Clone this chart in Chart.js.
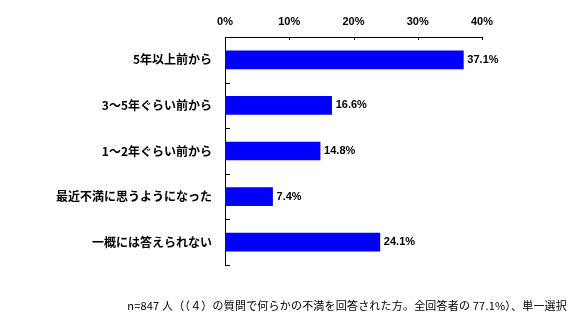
<!DOCTYPE html>
<html>
<head>
<meta charset="utf-8">
<script src="https://cdn.jsdelivr.net/npm/chart.js@4"></script>
<style>
    body { margin: 0; background: #fff; }
    .wrap { position: relative; width: 580px; height: 323px; }
    .note {
        position: absolute;
        right: 13px;
        top: 297px;
        font: 11px "Noto Sans CJK JP", sans-serif;
        letter-spacing: 0.2px;
        color: #000;
        white-space: nowrap;
    }
</style>
</head>
<body>
<div class="wrap">
    <canvas id="myChart" width="580" height="323"></canvas>
    <div class="note">n=847 人（（４）の質問で何らかの不満を回答された方。全回答者の 77.1%）、単一選択</div>
</div>
<script>
const categories = ['5年以上前から', '3～5年ぐらい前から', '1～2年ぐらい前から', '最近不満に思うようになった', '一概には答えられない'];
const values = [37.1, 16.6, 14.8, 7.4, 24.1];
const tickLabels = ['0%', '10%', '20%', '30%', '40%'];

const latin = 'bold 11px "Liberation Sans", "Noto Sans CJK JP", sans-serif';

// ticks point inward on both axes, and values sit right of the bars
const extras = {
    id: 'extras',
    afterDatasetsDraw(chart) {
        const ctx = chart.ctx;
        const x = chart.scales.x;
        const y = chart.scales.y;
        ctx.save();
        ctx.strokeStyle = '#000';
        ctx.lineWidth = 1;
        ctx.beginPath();
        x.ticks.forEach(t => {
            const px = Math.round(x.getPixelForValue(t.value)) + 0.5;
            ctx.moveTo(px, y.top);
            ctx.lineTo(px, y.top + 3);
        });
        const step = y.getPixelForValue(1) - y.getPixelForValue(0);
        categories.forEach((c, i) => {
            const py = Math.round(y.getPixelForValue(i) + step / 2) + 0.5;
            ctx.moveTo(x.left, py);
            ctx.lineTo(x.left + 5, py);
        });
        ctx.stroke();

        ctx.fillStyle = '#000';
        ctx.font = latin;
        ctx.textBaseline = 'middle';
        ctx.textAlign = 'left';
        chart.getDatasetMeta(0).data.forEach((bar, i) => {
            ctx.fillText(values[i].toFixed(1) + '%', bar.x + 4, bar.y);
        });
        ctx.restore();
    }
};

const ctx1 = document.getElementById('myChart');

new Chart(ctx1, {
    type: 'bar',
    data: {
        labels: categories,
        datasets: [{
            data: values,
            backgroundColor: '#0000ff',
            barThickness: 18
        }]
    },
    options: {
        indexAxis: 'y',
        responsive: false,
        animation: false,
        layout: {
            padding: { left: 0, right: 98, top: 0, bottom: 58 }
        },
        plugins: {
            legend: { display: false },
            tooltip: { enabled: false }
        },
        scales: {
            x: {
                position: 'top',
                min: 0,
                max: 40,
                afterFit: s => { s.height = 37; },
                grid: { display: false, drawTicks: false },
                border: { display: true, color: '#000', width: 1 },
                ticks: {
                    stepSize: 10,
                    padding: 8,
                    color: '#000',
                    font: { family: '"Liberation Sans", sans-serif', size: 11, weight: 'bold' },
                    callback: (v, i) => tickLabels[i]
                }
            },
            y: {
                afterFit: s => { s.width = 225; },
                grid: { display: false, drawTicks: false },
                border: { display: true, color: '#000', width: 1 },
                ticks: {
                    padding: 13,
                    color: '#000',
                    font: { family: '"Noto Sans CJK JP", sans-serif', size: 12, weight: 'bold' }
                }
            }
        }
    },
    plugins: [extras]
});
</script>
</body>
</html>
